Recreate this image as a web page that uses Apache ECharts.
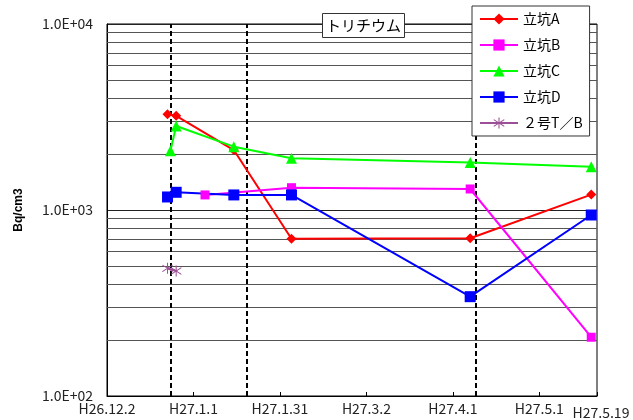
<!DOCTYPE html>
<html><head><meta charset="utf-8">
<script src="https://cdn.jsdelivr.net/npm/echarts@6/dist/echarts.min.js"></script>
<style>html,body{margin:0;padding:0;background:#fff;}#c{width:633px;height:420px;}</style>
</head><body><div id="c"></div>
<script>
// ---- data ----
const startDate = '2014-12-02';
const tickLabels = ['H26.12.2','H27.1.1','H27.1.31','H27.3.2','H27.4.1','H27.5.1','H27.5.19'];
const seriesNames = ['立坑A','立坑B','立坑C','立坑D','２号T／B'];
const datesA = ['2014-12-23','2014-12-26','2015-01-15','2015-02-04','2015-04-07','2015-05-19'];
const valuesA = [3270, 3210, 2100, 700, 705, 1210];
const datesB = ['2015-01-05','2015-02-04','2015-04-07','2015-05-19'];
const valuesB = [1205, 1318, 1297, 207];
const datesC = ['2014-12-24','2014-12-26','2015-01-15','2015-02-04','2015-04-07','2015-05-19'];
const valuesC = [2080, 2830, 2190, 1900, 1800, 1710];
const datesD = ['2014-12-23','2014-12-26','2015-01-15','2015-02-04','2015-04-07','2015-05-19'];
const valuesD = [1175, 1245, 1205, 1205, 342, 940];
const datesTB = ['2014-12-23','2014-12-26'];
const valuesTB = [486, 470];
const eventDays = [22, 48.6, 128];
const minorGridValues = [200,300,400,500,600,700,800,900,2000,3000,4000,5000,6000,7000,8000,9000];

function dayOf(s){ return Math.round((Date.parse(s) - Date.parse(startDate)) / 86400000); }
function pairs(ds, vs){ return ds.map((d,i)=>[dayOf(d), vs[i]]); }

const asterisk = 'path://M4.6,0H5.4V10H4.6Z M1.24,1.68L9.24,7.68L8.76,8.32L0.76,2.32Z M0.76,7.68L8.76,1.68L9.24,2.32L1.24,8.32Z';

const chart = echarts.init(document.getElementById('c'), null, {renderer:'canvas'});
const font = '"Noto Sans CJK JP", "Noto Sans", sans-serif';
const option = {
  animation: false,
  backgroundColor: '#fff',
  title: {
    text: 'トリチウム', left: 322, top: 13,
    padding: [5, 4], backgroundColor: '#fff', borderColor: '#333', borderWidth: 1,
    textStyle: { fontFamily: font, fontSize: 15, fontWeight: 'normal', color: '#000' }
  },
  legend: {
    data: seriesNames, orient: 'vertical', left: 472, top: 6,
    padding: [6, 7], itemWidth: 38, itemHeight: 14, itemGap: 12,
    backgroundColor: '#fff', borderColor: '#333', borderWidth: 1,
    textStyle: { fontFamily: font, fontSize: 14, color: '#000' }
  },
  grid: { left: 107, right: 36, top: 24, bottom: 24, show: true, borderColor: '#000', borderWidth: 1,
    outerBoundsMode: 'none', containLabel: false },
  xAxis: {
    type: 'value', min: 0, max: 170, interval: 30,
    axisLine: { lineStyle: { color: '#000' } },
    axisTick: { inside: true, length: 4, lineStyle: { color: '#000' } },
    splitLine: { show: false },
    axisLabel: {
      fontFamily: font, fontSize: 14, color: '#222', margin: 6,
      formatter: function(v){ const i = Math.round(v/30); if (v >= 170) return '{last|' + tickLabels[6] + '}'; return tickLabels[i] || ''; },
      rich: { last: { fontFamily: font, fontSize: 14, color: '#222', padding: [4, 0, 0, 8] } }
    }
  },
  yAxis: {
    type: 'log', logBase: 10, min: 100, max: 10000,
    name: 'Bq/cm3', nameLocation: 'middle', nameGap: 82, nameRotate: 90,
    nameTextStyle: { fontFamily: '"Liberation Sans", Arial, sans-serif', fontSize: 12, fontWeight: 'bold', color: '#000' },
    axisLine: { show: true, lineStyle: { color: '#000' } },
    axisTick: { show: false },
    splitLine: { show: true, lineStyle: { color: '#222', width: 1 } },
    axisLabel: {
      fontFamily: font, fontSize: 14, color: '#222', margin: 14,
      formatter: function(v){ return '1.0E+0' + Math.round(Math.log10(v)); }
    }
  },
  series: [
    { name: 'grid', type: 'line', data: [], z: 1, silent: true,
      markLine: { silent: true, symbol: 'none', z: 1, animation: false, label: { show: false },
        lineStyle: { type: 'solid', color: '#555', width: 1 },
        data: minorGridValues.map(v => ({ yAxis: v })) } },
    { name: 'events', type: 'line', data: [], z: 2, silent: true,
      markLine: { silent: true, symbol: 'none', z: 2, animation: false, label: { show: false },
        lineStyle: { type: [5, 3], color: '#000', width: 2 },
        data: eventDays.map(v => ({ xAxis: v })) } },
    { name: seriesNames[0], type: 'line', z: 3, data: pairs(datesA, valuesA), color: '#ff0000',
      symbol: 'diamond', symbolSize: 10, lineStyle: { width: 2 } },
    { name: seriesNames[1], type: 'line', z: 3, data: pairs(datesB, valuesB), color: '#ff00ff',
      symbol: 'rect', symbolSize: 9, lineStyle: { width: 2 } },
    { name: seriesNames[2], type: 'line', z: 3, data: pairs(datesC, valuesC), color: '#00ff00',
      symbol: 'triangle', symbolSize: 11, lineStyle: { width: 2 } },
    { name: seriesNames[3], type: 'line', z: 3, data: pairs(datesD, valuesD), color: '#0000ff',
      symbol: 'rect', symbolSize: 11, lineStyle: { width: 2 } },
    { name: seriesNames[4], type: 'line', z: 3, data: pairs(datesTB, valuesTB), color: '#9b4f96',
      symbol: asterisk, symbolSize: 11, lineStyle: { width: 2 } }
  ]
};
chart.setOption(option);
</script></body></html>
